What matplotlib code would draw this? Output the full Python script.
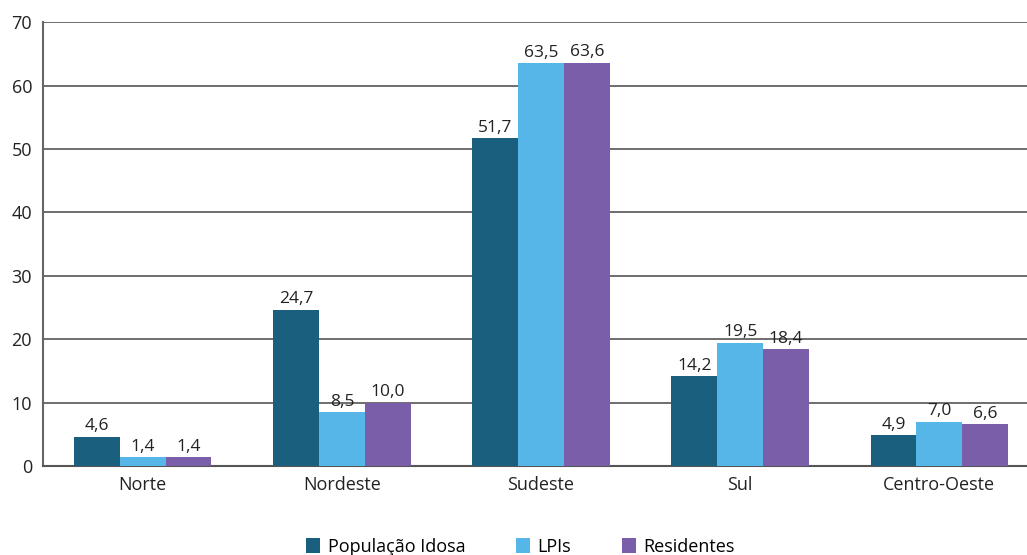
import matplotlib.pyplot as plt
import numpy as np

plt.rcParams['font.family'] = ['Open Sans', 'DejaVu Sans']

regioes = ["Norte", "Nordeste", "Sudeste", "Sul", "Centro-Oeste"]
populacao_idosa = [4.6, 24.7, 51.7, 14.2, 4.9]
lpis = [1.4, 8.5, 63.5, 19.5, 7.0]
residentes = [1.4, 10.0, 63.6, 18.4, 6.6]
series = ["População Idosa", "LPIs", "Residentes"]
cores = ["#1a5f7d", "#57b6e8", "#7b5ea9"]

fig = plt.figure(figsize=(10.27, 5.55), dpi=100)
ax = fig.add_axes([0.042, 0.16, 0.958, 0.80])

x = np.arange(len(regioes))
w = 0.23
for i, (vals, nome, cor) in enumerate(zip([populacao_idosa, lpis, residentes], series, cores)):
    bars = ax.bar(x + (i - 1) * w, vals, w, color=cor, label=nome, zorder=3)
    for b, v in zip(bars, vals):
        ax.text(b.get_x() + b.get_width() / 2, v + 0.4, f"{v:.1f}".replace(".", ","),
                ha="center", va="bottom", fontsize=12.5, color="#222222")

ax.set_ylim(0, 70)
ax.set_xlim(-0.5, 4.44)
ax.set_yticks(range(0, 71, 10))
ax.set_xticks(x)
ax.set_xticklabels(regioes)
ax.yaxis.grid(True, color="#555555", lw=1.2, zorder=0)
ax.set_axisbelow(True)
for s in ["top", "right"]:
    ax.spines[s].set_visible(False)
ax.spines["left"].set_color("#666666")
ax.spines["left"].set_linewidth(1.5)
ax.spines["bottom"].set_color("#555555")
ax.spines["bottom"].set_linewidth(1.5)
ax.tick_params(axis="y", length=0, labelsize=13, pad=8, colors="#222222")
ax.tick_params(axis="x", length=0, labelsize=13, pad=7, colors="#222222")

ax.legend(loc="upper center", bbox_to_anchor=(0.485, -0.125), ncol=3, frameon=False,
          fontsize=13, handlelength=0.8, handleheight=0.9, handletextpad=0.4, columnspacing=2.8)

plt.savefig("out.png", dpi=100)
